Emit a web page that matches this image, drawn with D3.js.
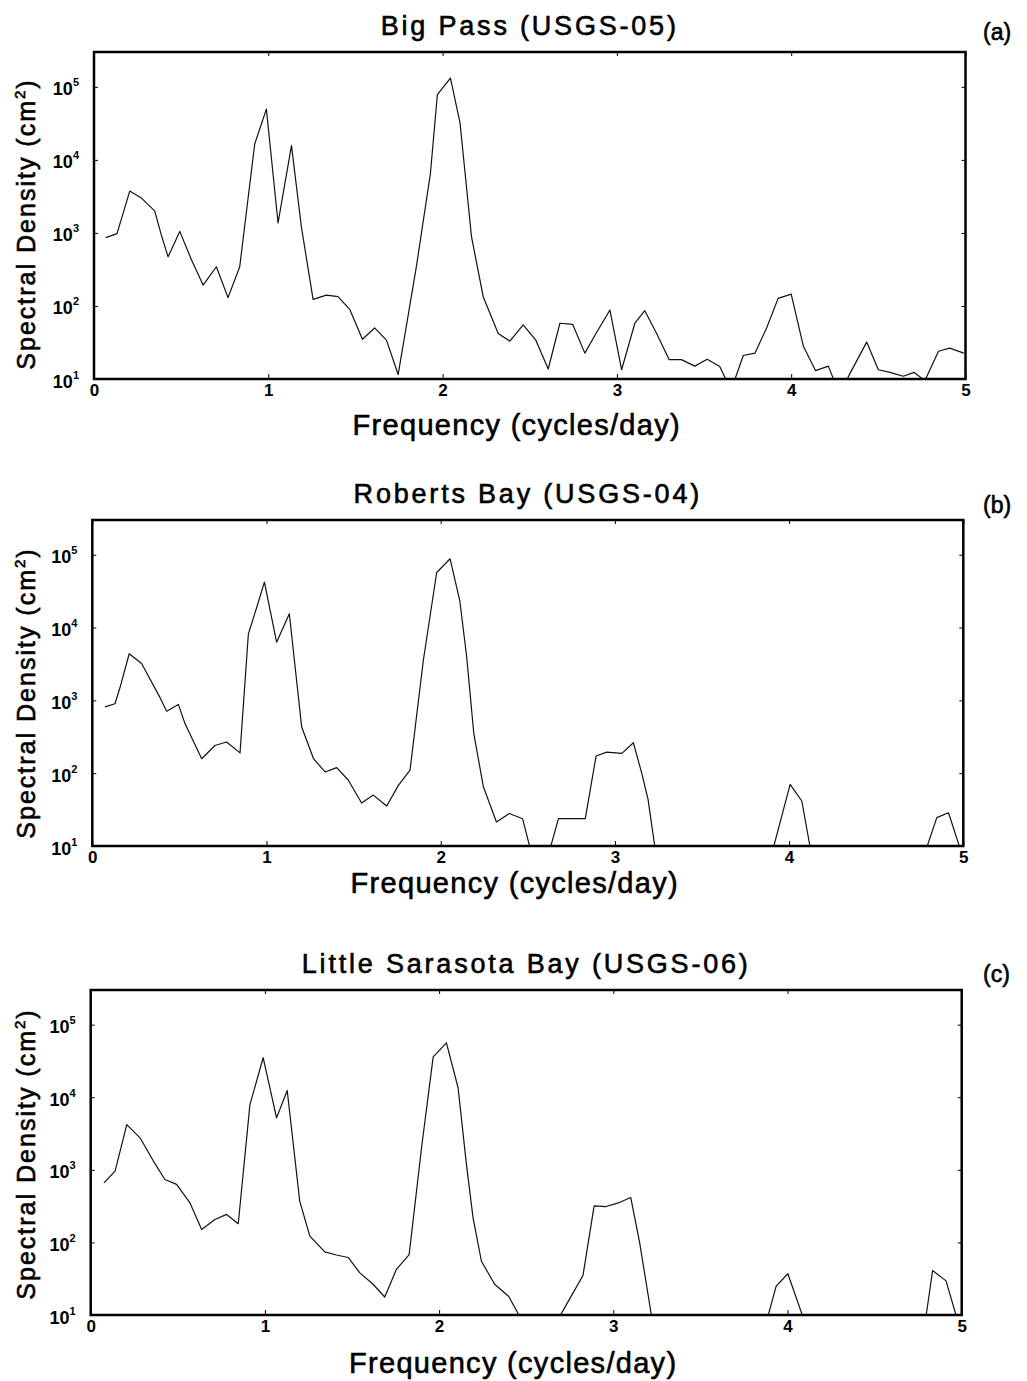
<!DOCTYPE html>
<html>
<head>
<meta charset="utf-8">
<script src="https://cdn.jsdelivr.net/npm/d3@7"></script>
<style>
  body { margin: 0; background: #fff; }
  text { font-family: "Liberation Sans", Arial, Helvetica, sans-serif; fill: #000; }
  .heavy { stroke: #000; stroke-width: 0.6; }
</style>
</head>
<body>
<svg id="chart" width="1027" height="1381"></svg>
<script>
// Spectra (frequency in cycles/day, density in cm^2)
// null = curve dips out of the plotted range
var bigPassFreq = [0.067, 0.132, 0.205, 0.272, 0.348, 0.386, 0.425, 0.492, 0.559, 0.626, 0.702, 0.769, 0.836, 0.922, 0.989,
  1.056, 1.133, 1.19, 1.257, 1.333, 1.4, 1.467, 1.54, 1.61, 1.678, 1.745, 1.85, 1.93, 1.97, 2.045, 2.1, 2.166, 2.233, 2.319,
  2.386, 2.462, 2.535, 2.606, 2.673, 2.746, 2.816, 2.88, 2.96, 3.027, 3.103, 3.16, 3.228, 3.3, 3.37, 3.447, 3.518, 3.59,
  3.655, 3.725, 3.792, 3.859, 3.925, 4.0, 4.07, 4.14, 4.213, 4.28, 4.333, 4.433, 4.5, 4.567, 4.643, 4.706, 4.767, 4.845,
  4.91, 4.99];
var bigPassDensity = [863, 980, 3740, 3000, 2000, 940, 470, 1050, 430, 193, 344, 130, 344, 16500, 49500,
  1370, 15700, 1200, 123, 141, 134, 90, 35, 50, 34, 11.5, 350, 6500, 78000, 132000, 32000, 880, 134, 42,
  33, 55, 34, 13.7, 58, 56, 22.6, 42, 88, 13.4, 58, 86, 42, 18.4, 18.4, 15, 18.6, 14.8,
  7, 21, 22.6, 50, 127, 145, 28, 13, 15, 6, 11.4, 32, 13.4, 12.3, 10.9, 12.3, 9.5, 24,
  26.5, 22.6];

var robertsBayFreq = [0.073, 0.13, 0.159, 0.212, 0.283, 0.389, 0.427, 0.494, 0.532, 0.628, 0.704, 0.771, 0.848, 0.896,
  0.944, 0.988, 1.058, 1.131, 1.202, 1.27, 1.336, 1.403, 1.47, 1.546, 1.613, 1.69, 1.757, 1.824, 1.9, 1.977, 2.054,
  2.11, 2.149, 2.19, 2.245, 2.32, 2.394, 2.47, 2.515, 2.57, 2.627, 2.676, 2.75, 2.83, 2.892, 2.953, 3.04, 3.106,
  3.154, 3.19, 3.23, 3.57, 3.91, 4.006, 4.073, 4.121, 4.45, 4.79, 4.848, 4.915, 4.98];
var robertsBayDensity = [815, 900, 1500, 4370, 3200, 1090, 710, 880, 480, 158, 240, 268, 190, 8200,
  19000, 42000, 6300, 15500, 430, 158, 104, 119, 80, 39, 50, 35.5, 68, 110, 3500, 57000, 88000,
  23000, 4000, 350, 65, 21.4, 28, 23.7, 9, null, 9, 23.7, 23.7, 23.7, 172, 195, 187, 262,
  100, 44, 9.5, null, 9.5, 70, 41.5, 9.5, null, 9.5, 24.5, 28.6, 9.5];

var sarasotaFreq = [0.076, 0.14, 0.207, 0.283, 0.36, 0.426, 0.493, 0.57, 0.637, 0.713, 0.78, 0.847, 0.914, 0.99,
  1.067, 1.128, 1.2, 1.258, 1.344, 1.41, 1.478, 1.545, 1.621, 1.688, 1.755, 1.828, 1.899, 1.966, 2.042, 2.109,
  2.157, 2.195, 2.243, 2.319, 2.4, 2.463, 2.58, 2.692, 2.76, 2.826, 2.89, 2.958, 3.025, 3.1, 3.151, 3.22,
  3.55, 3.887, 3.935, 4.002, 4.088, 4.44, 4.795, 4.833, 4.91, 4.97];
var sarasotaDensity = [660, 960, 4200, 2760, 1320, 736, 630, 350, 151, 207, 243, 181, 7900, 35000,
  5200, 12400, 370, 122, 74, 67, 62, 38, 26.5, 17.7, 42.6, 68, 2000, 36000, 56000, 13500,
  1180, 218, 55, 26.5, 18, 9.5, null, 9.5, 18.5, 35, 318, 312, 347, 416, 100, 9.5,
  null, 9.5, 25, 37, 9.5, null, 9.5, 41, 29.5, 9.5];

var freqTicks = [0, 1, 2, 3, 4, 5];
var densityTicks = [10, 100, 1000, 10000, 100000];
var panelTitles = ["Big Pass (USGS-05)", "Roberts Bay (USGS-04)", "Little Sarasota Bay (USGS-06)"];
var panelTags = ["(a)", "(b)", "(c)"];
var panelFreqs = [bigPassFreq, robertsBayFreq, sarasotaFreq];
var panelDensities = [bigPassDensity, robertsBayDensity, sarasotaDensity];

// Placement of each panel on the page
var layouts = [
  { left: 94, right: 965.5, top: 52, bottom: 379, titleY: 35, tagY: 40, xLabelY: 435, yLabelY: 224 },
  { left: 92.3, right: 963.3, top: 520, bottom: 846, titleY: 503, tagY: 513, xLabelY: 893, yLabelY: 693 },
  { left: 90.7, right: 961.7, top: 990, bottom: 1315, titleY: 973, tagY: 982, xLabelY: 1373, yLabelY: 1154 }
];

var svg = d3.select("#chart");

var draw_panel = function(lay, i) {
  var x = d3.scaleLinear().domain([0, 5]).range([lay.left, lay.right]);
  var y = d3.scaleLog().domain([10, 3e5]).range([lay.bottom, lay.top]);
  var midX = (lay.left + lay.right) / 2;

  var g = svg.append("g");

  g.append("clipPath").attr("id", "clip" + i)
    .append("rect")
      .attr("x", lay.left).attr("y", lay.top)
      .attr("width", lay.right - lay.left).attr("height", lay.bottom - lay.top);

  var points = panelFreqs[i].map(function(f, j) {
    return { f: f, v: panelDensities[i][j] };
  });

  var line = d3.line()
      .defined(function(d) { return d.v != null; })
      .x(function(d) { return x(d.f); })
      .y(function(d) { return y(d.v); });

  g.append("path")
      .datum(points)
      .attr("clip-path", "url(#clip" + i + ")")
      .attr("d", line)
      .attr("fill", "none")
      .attr("stroke", "#111")
      .attr("stroke-width", 1.2)
      .attr("stroke-linejoin", "round");

  // Axes
  var xAxis = g.append("g")
      .attr("transform", "translate(0," + lay.bottom + ")")
      .call(d3.axisBottom(x).tickValues(freqTicks).tickSizeInner(-5).tickSizeOuter(0)
        .tickPadding(5).tickFormat(d3.format("d")));
  xAxis.selectAll("text")
      .attr("font-size", 17).attr("font-weight", "bold")
      .attr("font-family", "Liberation Sans, Arial, sans-serif");

  g.append("g")
      .attr("transform", "translate(0," + lay.top + ")")
      .call(d3.axisTop(x).tickValues(freqTicks).tickSizeInner(-4).tickSizeOuter(0).tickFormat(""));

  var yAxis = g.append("g")
      .attr("transform", "translate(" + lay.left + ",0)")
      .call(d3.axisLeft(y).tickValues(densityTicks).tickSizeInner(-4).tickSizeOuter(0).tickFormat(""));
  yAxis.selectAll(".tick text").remove();
  var lab = yAxis.selectAll(".tick").append("text")
      .attr("x", -15).attr("y", 8)
      .attr("text-anchor", "end")
      .attr("font-weight", "bold")
      .attr("font-family", "Liberation Sans, Arial, sans-serif");
  lab.append("tspan").attr("font-size", 18).text("10");
  lab.append("tspan").attr("font-size", 11).attr("dy", -9)
      .text(function(d) { return Math.round(Math.log10(d)); });

  g.append("g")
      .attr("transform", "translate(" + lay.right + ",0)")
      .call(d3.axisRight(y).tickValues(densityTicks).tickSizeInner(-4).tickSizeOuter(0).tickFormat(""));

  g.selectAll(".domain").remove();
  g.selectAll(".tick line").attr("stroke", "#000");

  g.append("rect")
      .attr("x", lay.left).attr("y", lay.top)
      .attr("width", lay.right - lay.left).attr("height", lay.bottom - lay.top)
      .attr("fill", "none").attr("stroke", "#000").attr("stroke-width", 2.5);

  // Texts
  g.append("text")
      .attr("class", "heavy")
      .attr("x", midX).attr("y", lay.titleY)
      .attr("text-anchor", "middle")
      .attr("font-size", 27).attr("letter-spacing", 2.8)
      .text(panelTitles[i]);

  g.append("text")
      .attr("class", "heavy")
      .attr("x", 983).attr("y", lay.tagY)
      .attr("font-size", 23)
      .text(panelTags[i]);

  g.append("text")
      .attr("class", "heavy")
      .attr("x", midX - 13).attr("y", lay.xLabelY)
      .attr("text-anchor", "middle")
      .attr("font-size", 29).attr("letter-spacing", 1.3)
      .text("Frequency (cycles/day)");

  var yl = g.append("text")
      .attr("class", "heavy")
      .attr("transform", "translate(35," + lay.yLabelY + ") rotate(-90)")
      .attr("text-anchor", "middle")
      .attr("font-size", 25).attr("letter-spacing", 2);
  yl.append("tspan").text("Spectral Density (cm");
  yl.append("tspan").attr("font-size", 15).attr("dy", -10).text("2");
  yl.append("tspan").attr("dy", 10).text(")");
};

layouts.forEach(draw_panel);
</script>
</body>
</html>
